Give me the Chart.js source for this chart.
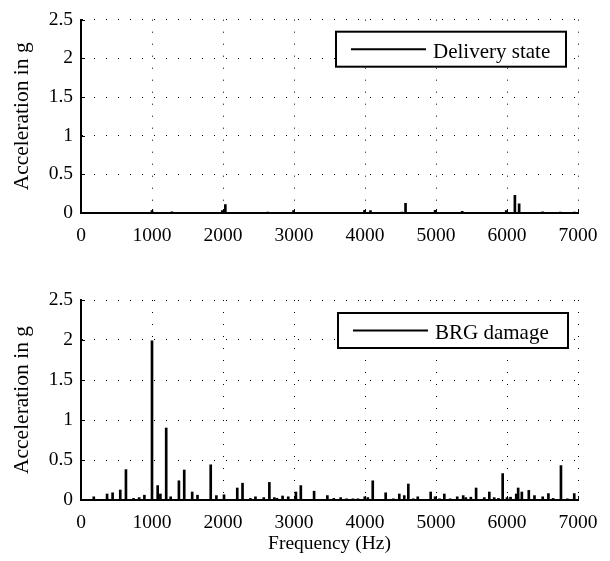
<!DOCTYPE html>
<html>
<head>
<meta charset="utf-8">
<script src="https://cdn.jsdelivr.net/npm/chart.js@4/dist/chart.umd.min.js"></script>
<style>
  body { margin: 0; background: #fff; }
  #wrap { position: relative; width: 610px; height: 561px; }
  canvas { position: absolute; left: 0; }
</style>
</head>
<body>
<div id="wrap">
  <canvas id="topChart" width="610" height="250" style="top:0;width:610px;height:250px"></canvas>
  <canvas id="bottomChart" width="610" height="281" style="top:280px;width:610px;height:281px"></canvas>
</div>
<script>
// tick values
const freqTicks = [0, 1000, 2000, 3000, 4000, 5000, 6000, 7000]
const accTicks = [0, 0.5, 1, 1.5, 2, 2.5]

// delivery state spectrum peaks (Hz, g)
const deliveryFreq = [300, 560, 1000, 1280, 1430, 1990, 2033, 2630, 2993, 3150, 3700, 3993, 4077, 4520, 4571, 4987, 5369, 5550, 5989, 6111, 6171, 6500, 6750, 6950]
const deliveryAcc  = [0.01, 0.01, 0.03, 0.015, 0.01, 0.03, 0.11, 0.012, 0.03, 0.01, 0.01, 0.035, 0.03, 0.012, 0.125, 0.035, 0.02, 0.01, 0.03, 0.23, 0.12, 0.015, 0.012, 0.012]

// bearing damage spectrum peaks (Hz, g)
const brgFreq = [180, 367, 445, 553, 633, 740, 819, 893, 1000, 1080, 1118, 1200, 1263, 1379, 1454, 1566, 1641, 1827, 1907, 2014,
  2201, 2275, 2387, 2457, 2574, 2653, 2723, 2760, 2839, 2919, 3027, 3096, 3283, 3470, 3560, 3657, 3740, 3830, 3900, 3997,
  4040, 4109, 4291, 4400, 4483, 4553, 4610, 4680, 4743, 4925, 4987, 5050, 5117, 5200, 5299, 5383, 5420, 5491, 5565, 5680,
  5751, 5820, 5880, 5939, 6000, 6050, 6130, 6157, 6209, 6307, 6387, 6503, 6583, 6650, 6760, 6850, 6947]
const brgAcc = [0.04, 0.075, 0.09, 0.125, 0.38, 0.02, 0.03, 0.06, 1.99, 0.18, 0.075, 0.9, 0.04, 0.24, 0.375, 0.1, 0.06, 0.44, 0.055, 0.065,
  0.15, 0.21, 0.02, 0.04, 0.03, 0.22, 0.03, 0.02, 0.05, 0.04, 0.1, 0.18, 0.11, 0.055, 0.02, 0.03, 0.015, 0.015, 0.015, 0.04,
  0.03, 0.24, 0.09, 0.015, 0.075, 0.055, 0.2, 0.015, 0.04, 0.1, 0.04, 0.015, 0.075, 0.015, 0.04, 0.055, 0.03, 0.035, 0.15, 0.03,
  0.1, 0.03, 0.02, 0.33, 0.03, 0.035, 0.075, 0.15, 0.1, 0.12, 0.055, 0.04, 0.08, 0.02, 0.43, 0.015, 0.08]

const serif = '"Liberation Serif", "Times New Roman", serif'

// legend drawn inside the plot, matlab style
const boxLegend = {
  id: 'boxLegend',
  afterDraw(chart, args, opts) {
    const {ctx, chartArea} = chart
    const w = 230, h = 35
    const x = chartArea.right - opts.right - w
    const y = chartArea.top + opts.top
    ctx.save()
    ctx.fillStyle = '#fff'
    ctx.fillRect(x, y, w, h)
    ctx.lineWidth = 2
    ctx.strokeStyle = '#000'
    ctx.strokeRect(x, y, w, h)
    ctx.beginPath()
    ctx.moveTo(x + 15, y + h / 2)
    ctx.lineTo(x + 90, y + h / 2)
    ctx.stroke()
    ctx.fillStyle = '#000'
    ctx.font = '21px ' + serif
    ctx.textBaseline = 'alphabetic'
    ctx.fillText(chart.data.datasets[0].label, x + 97, y + 26)
    ctx.restore()
  }
}

// small inward tick marks on left and bottom axes
const innerTicks = {
  id: 'innerTicks',
  afterDatasetsDraw(chart) {
    const {ctx, chartArea, scales} = chart
    ctx.save()
    ctx.strokeStyle = '#000'
    ctx.lineWidth = 1
    ctx.beginPath()
    scales.y.ticks.forEach(t => {
      const py = Math.round(scales.y.getPixelForValue(t.value)) + 0.5
      ctx.moveTo(chartArea.left, py)
      ctx.lineTo(chartArea.left + 4, py)
    })
    scales.x.ticks.forEach(t => {
      const px = Math.round(scales.x.getPixelForValue(t.value)) + 0.5
      ctx.moveTo(px, chartArea.bottom)
      ctx.lineTo(px, chartArea.bottom - 4)
    })
    ctx.stroke()
    ctx.restore()
  }
}

function makeChart(canvas, freqs, accs, label, cfg) {
  return new Chart(canvas, {
    type: 'bar',
    data: {
      datasets: [{
        label: label,
        data: freqs.map((f, i) => ({x: f, y: accs[i]})),
        backgroundColor: '#000',
        borderWidth: 0,
        barThickness: 2
      }]
    },
    plugins: [boxLegend, innerTicks],
    options: {
      responsive: false,
      animation: false,
      layout: {padding: {top: cfg.padTop, right: 32, left: 0, bottom: 0}},
      plugins: {
        legend: {display: false},
        tooltip: {enabled: false},
        boxLegend: {top: cfg.legendTop, right: cfg.legendRight}
      },
      scales: {
        x: {
          type: 'linear',
          min: 0,
          max: 7000,
          offset: false,
          afterBuildTicks: s => { s.ticks = freqTicks.map(v => ({value: v})) },
          afterFit: s => { s.height = cfg.xHeight },
          ticks: {
            color: '#000',
            font: {family: serif, size: 19.5},
            padding: 11,
            maxRotation: 0,
            callback: v => String(v)
          },
          grid: {color: '#000', lineWidth: 1, drawTicks: false, offset: false},
          border: {display: true, color: '#000', width: 2, dash: [1, 11]},
          title: {
            display: cfg.xTitle,
            text: 'Frequency (Hz)',
            color: '#000',
            font: {family: serif, size: 19.5},
            padding: {top: 0, bottom: 5}
          }
        },
        y: {
          min: 0,
          max: 2.5,
          afterBuildTicks: s => { s.ticks = accTicks.map(v => ({value: v})) },
          afterFit: s => { s.width = 81 },
          ticks: {
            color: '#000',
            font: {family: serif, size: 19.5},
            padding: 8,
            callback: v => String(v)
          },
          grid: {color: '#000', lineWidth: 1, drawTicks: false},
          border: {display: true, color: '#000', width: 2, dash: [1, 11]},
          title: {
            display: true,
            text: 'Acceleration in g',
            color: '#000',
            font: {family: serif, size: 21.5},
            padding: {top: 9, bottom: 0}
          }
        }
      }
    }
  })
}

makeChart(document.getElementById('topChart'), deliveryFreq, deliveryAcc, 'Delivery state',
  {padTop: 14, xHeight: 37, xTitle: false, legendTop: 12, legendRight: 12})
makeChart(document.getElementById('bottomChart'), brgFreq, brgAcc, 'BRG damage',
  {padTop: 20, xHeight: 61, xTitle: true, legendTop: 13, legendRight: 10})
</script>
</body>
</html>
